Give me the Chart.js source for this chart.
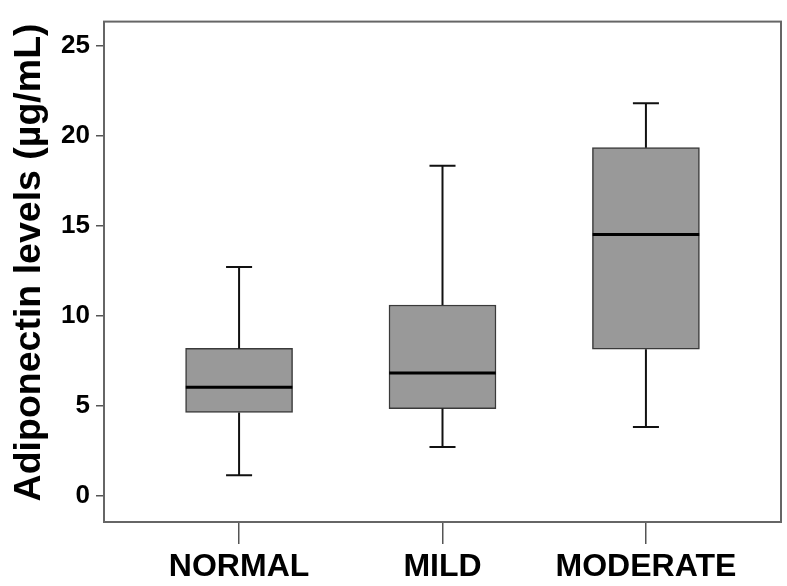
<!DOCTYPE html>
<html lang="en">
<head>
<meta charset="UTF-8">
<title>Adiponectin levels</title>
<script src="https://cdn.jsdelivr.net/npm/chart.js"></script>
<style>
  body { margin: 0; background: #fff; }
  #wrap { width: 787px; height: 586px; }
</style>
</head>
<body>
<div id="wrap"><canvas id="chart" width="787" height="586"></canvas></div>
<script>
  // box plot values (µg/mL)
  const categories  = ['NORMAL', 'MILD', 'MODERATE'];
  const whiskerLow  = [1.16, 2.73, 3.83];
  const quartile1   = [4.64, 4.86, 8.16];
  const medians     = [6.05, 6.84, 14.53];
  const quartile3   = [8.20, 10.61, 19.35];
  const whiskerHigh = [12.72, 18.35, 21.82];
  const yTicks = [0, 5, 10, 15, 20, 25];

  // widths in category units (x scale is linear, one unit per group)
  const boxHalf = 0.262;
  const capHalf = 0.064;

  const gap = i => ({ x: i, y: null });

  // whisker stems
  const stems = [];
  categories.forEach((c, i) => {
    stems.push({ x: i, y: quartile3[i] }, { x: i, y: whiskerHigh[i] }, gap(i));
    stems.push({ x: i, y: quartile1[i] }, { x: i, y: whiskerLow[i] }, gap(i));
  });

  // whisker caps
  const caps = [];
  categories.forEach((c, i) => {
    caps.push({ x: i - capHalf, y: whiskerHigh[i] }, { x: i + capHalf, y: whiskerHigh[i] }, gap(i));
    caps.push({ x: i - capHalf, y: whiskerLow[i] }, { x: i + capHalf, y: whiskerLow[i] }, gap(i));
  });

  // median lines
  const medLines = [];
  categories.forEach((c, i) => {
    medLines.push({ x: i - boxHalf, y: medians[i] }, { x: i + boxHalf, y: medians[i] }, gap(i));
  });

  // frame round the plot area
  const framePlugin = {
    id: 'frame',
    afterDraw(chart) {
      const { ctx, chartArea: a } = chart;
      ctx.save();
      ctx.strokeStyle = '#666';
      ctx.lineWidth = 2;
      ctx.strokeRect(a.left, a.top, a.right - a.left, a.bottom - a.top);
      ctx.restore();
    }
  };

  const font = 'Liberation Sans, Arial, sans-serif';

  new Chart(document.getElementById('chart'), {
    type: 'bar',
    data: {
      datasets: [
        {
          type: 'line',
          data: medLines,
          borderColor: '#000',
          borderWidth: 3,
          pointRadius: 0,
          order: 1
        },
        {
          type: 'line',
          data: stems,
          borderColor: '#111',
          borderWidth: 2,
          pointRadius: 0,
          order: 1
        },
        {
          type: 'line',
          data: caps,
          borderColor: '#111',
          borderWidth: 2,
          pointRadius: 0,
          order: 1
        },
        {
          type: 'bar',
          data: categories.map((c, i) => ({ x: i, y: [quartile1[i], quartile3[i]] })),
          backgroundColor: '#999999',
          borderColor: '#3a3a3a',
          borderWidth: 1.5,
          borderSkipped: false,
          barThickness: 107,
          order: 2
        }
      ]
    },
    options: {
      responsive: false,
      animation: false,
      layout: { padding: { top: 9, right: 6, left: 0, bottom: 0 } },
      plugins: {
        legend: { display: false },
        tooltip: { enabled: false }
      },
      scales: {
        x: {
          type: 'linear',
          min: -0.664,
          max: 2.664,
          offset: false,
          afterBuildTicks: s => { s.ticks = categories.map((c, i) => ({ value: i })); },
          afterFit: s => { s.height = 64; },
          border: { display: false },
          grid: { offset: false, drawOnChartArea: false, drawTicks: true, tickLength: 22, color: '#555', lineWidth: 1.5 },
          ticks: {
            callback: v => categories[v],
            autoSkip: false,
            maxRotation: 0,
            padding: 4,
            color: '#000',
            font: { family: font, size: 32, weight: 'bold' }
          }
        },
        y: {
          min: -1.44,
          max: 26.35,
          afterBuildTicks: s => { s.ticks = yTicks.map(v => ({ value: v })); },
          afterFit: s => { s.width = 104; },
          border: { display: false },
          grid: { drawOnChartArea: false, drawTicks: true, tickLength: 8, color: '#555', lineWidth: 1.5 },
          ticks: {
            padding: 6,
            color: '#000',
            font: { family: font, size: 26, weight: 'bold' }
          },
          title: {
            display: true,
            // leading en space nudges the title up a little, as in the figure
            text: '\u2002Adiponectin levels (µg/mL)',
            color: '#000',
            padding: { top: 7, bottom: 0 },
            font: { family: font, size: 37.5, weight: 'bold' }
          }
        }
      }
    },
    plugins: [framePlugin]
  });
</script>
</body>
</html>
